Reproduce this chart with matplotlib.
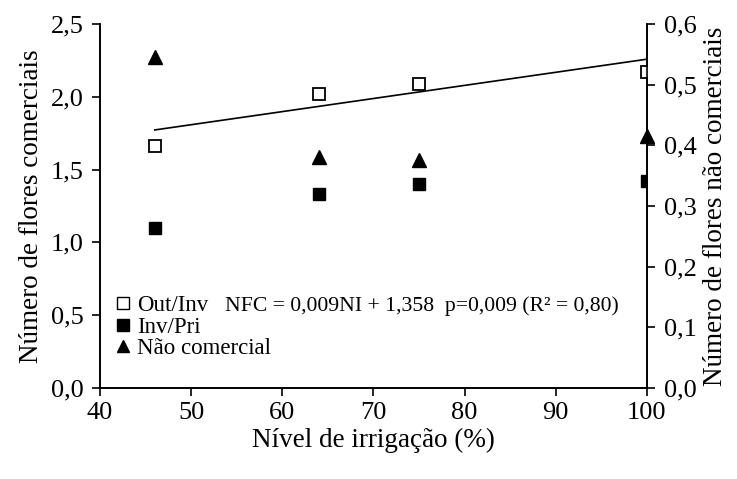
import numpy as np
import matplotlib
matplotlib.use("Agg")
import matplotlib.pyplot as plt
from matplotlib.lines import Line2D

plt.rcParams['font.family'] = ['Liberation Serif', 'DejaVu Serif']

# irrigation levels (%)
nivel = [46, 64, 75, 100]
# commercial flowers (left axis)
out_inv = [1.66, 2.02, 2.09, 2.17]
inv_pri = [1.10, 1.33, 1.40, 1.42]
# non-commercial flowers (right axis)
nao_com = [0.545, 0.380, 0.375, 0.416]

# regression NFC = a*NI + b for Out/Inv
a, b = 0.009, 1.358

fig = plt.figure(figsize=(7.37, 4.79), dpi=100)
ax = fig.add_axes([0.1357, 0.19, 0.742, 0.76])
ax2 = ax.twinx()

ax.plot(nivel, out_inv, 's', mfc='white', mec='black', mew=1.3, ms=8.5, ls='none', zorder=3)
ax.plot(nivel, inv_pri, 's', color='black', ms=8.5, ls='none', zorder=3)
xs = np.array([nivel[0], nivel[-1]])
ax.plot(xs, a * xs + b, color='black', lw=1.2, zorder=2)
ax2.plot(nivel, nao_com, '^', color='black', ms=9.5, ls='none', clip_on=False)

ax.set_xlim(40, 100)
ax.set_ylim(0, 2.5)
ax2.set_ylim(0, 0.6)
ax.set_xticks(range(40, 101, 10))
ax.set_yticks(np.arange(0, 2.51, 0.5))
ax2.set_yticks(np.arange(0, 0.61, 0.1))
ax.set_yticklabels([f"{v:.1f}".replace('.', ',') for v in np.arange(0, 2.51, 0.5)])
ax2.set_yticklabels([f"{v:.1f}".replace('.', ',') for v in np.arange(0, 0.61, 0.1)])

for axx in (ax, ax2):
    axx.spines['top'].set_visible(False)
    for s in axx.spines.values():
        s.set_linewidth(1.2)
    axx.tick_params(labelsize=19, width=1.2, length=6, direction='out', pad=6)
ax.tick_params(axis='x', pad=4)

ax.set_xlabel('Nível de irrigação (%)', fontsize=19.5, labelpad=3)
ax.set_ylabel('Número de flores comerciais', fontsize=19.5, labelpad=5)
ax2.set_ylabel('Número de flores não comerciais', fontsize=19.5, labelpad=5)

handles = [
    Line2D([], [], marker='s', ls='none', mfc='white', mec='black', mew=1.0, ms=8),
    Line2D([], [], marker='s', ls='none', color='black', ms=8),
    Line2D([], [], marker='^', ls='none', color='black', ms=8),
]
ax.legend(handles, ['Out/Inv', 'Inv/Pri', 'Não comercial'], loc='upper left',
          bbox_to_anchor=(0.03, 0.255), frameon=False, fontsize=16.5,
          handlelength=0.6, handletextpad=0.3, labelspacing=0.02,
          borderpad=0, borderaxespad=0)
ax.text(0.229, 0.225, 'NFC = 0,009NI + 1,358  p=0,009 (R² = 0,80)',
        transform=ax.transAxes, fontsize=15.6, va='center')

fig.savefig('out.png', dpi=100)
